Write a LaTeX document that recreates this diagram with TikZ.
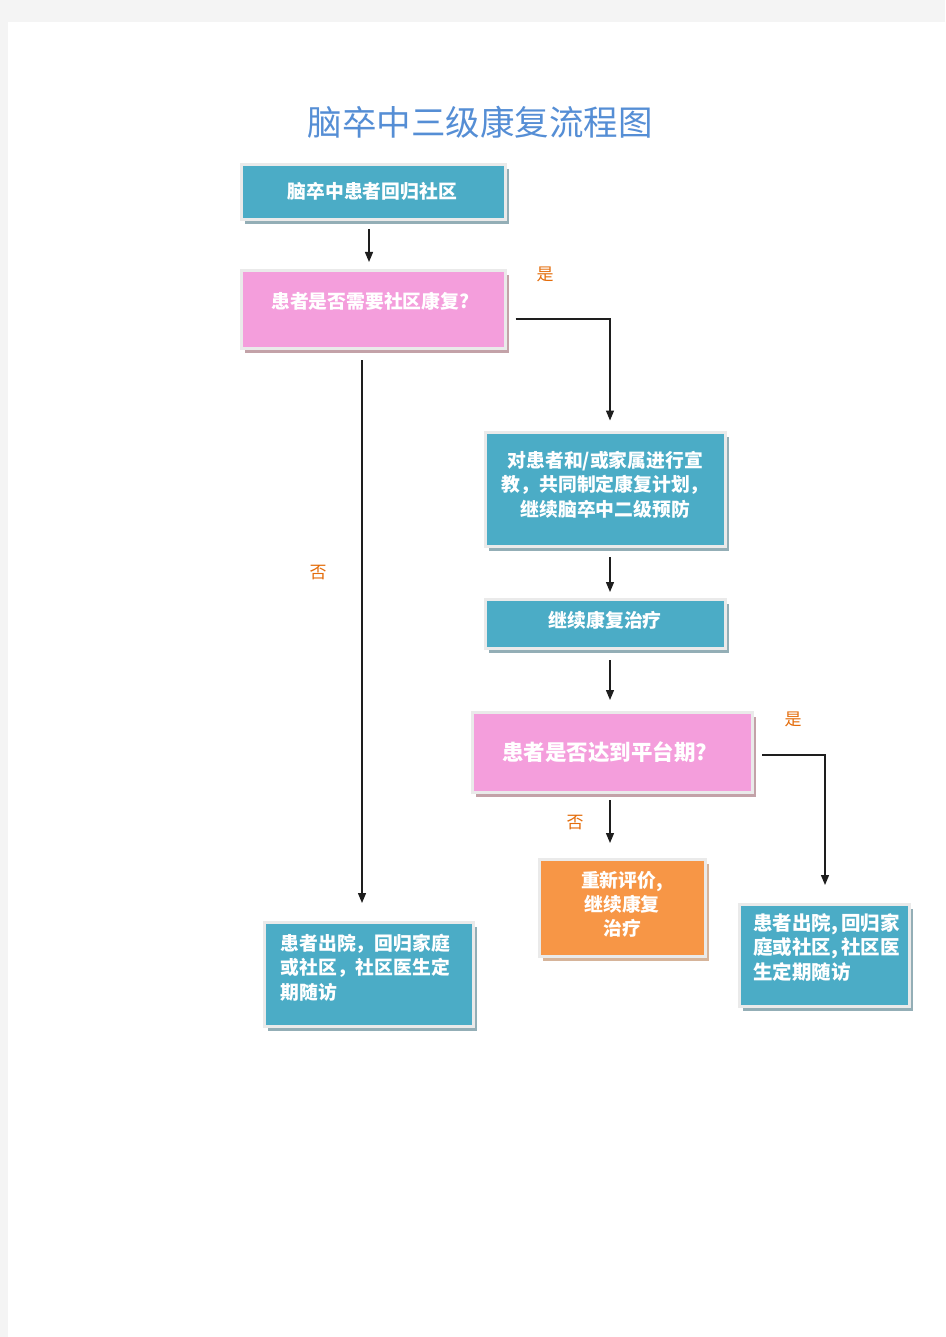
\documentclass[tikz,border=0pt]{standalone}
\usepackage{fontspec}
\newfontfamily\cjk{Noto Sans CJK SC}
\usetikzlibrary{arrows.meta,shadows}
\definecolor{pagegray}{HTML}{F4F4F4}
\definecolor{tealfill}{HTML}{4BACC6}
\definecolor{tealshadow}{HTML}{93AEB6}
\definecolor{pinkfill}{HTML}{F49EDC}
\definecolor{pinkshadow}{HTML}{C3A2A8}
\definecolor{orangefill}{HTML}{F79646}
\definecolor{orangeshadow}{HTML}{D6B49A}
\definecolor{framegray}{HTML}{EAEAEA}
\definecolor{titleblue}{HTML}{558ED5}
\definecolor{labelorange}{HTML}{E46C0A}
\definecolor{arrowgray}{HTML}{1E1E1E}
\begin{document}
\begin{tikzpicture}[x=1pt,y=-1pt,
  box/.style={draw=framegray, line width=3pt, inner sep=0pt, outer sep=0pt},
  tbox/.style={box, fill=tealfill, drop shadow={shadow xshift=3.5pt, shadow yshift=-4.5pt, fill=tealshadow, opacity=1}},
  pbox/.style={box, fill=pinkfill, drop shadow={shadow xshift=3.5pt, shadow yshift=-4.5pt, fill=pinkshadow, opacity=1}},
  obox/.style={box, fill=orangefill, drop shadow={shadow xshift=3.5pt, shadow yshift=-4.5pt, fill=orangeshadow, opacity=1}},
  btext/.style={inner sep=0pt, text=white, font=\cjk\bfseries\fontsize{18.8}{24.5}\selectfont, align=center},
  lbl/.style={inner sep=0pt, text=labelorange, font=\cjk\fontsize{17}{18}\selectfont},
  conn/.style={draw=arrowgray, line width=1.3pt, -{Triangle[width=8pt,length=10pt]}}
]
\useasboundingbox (0,0) rectangle (945,1337);
\fill[pagegray] (0,0) rectangle (945,1337);
\fill[white] (8,22) rectangle (945,1337);

\node[inner sep=0pt, text=titleblue, font=\cjk\fontsize{34.5}{40}\selectfont] (title) at (480,122) {脑卒中三级康复流程图};

% boxes
\node[tbox, minimum width=264.5pt, minimum height=55.5pt] (b1) at (373.25,192.25) {};
\node[pbox, minimum width=264.5pt, minimum height=77pt] (b2) at (373.25,309.5) {};
\node[tbox, minimum width=240.5pt, minimum height=113.5pt] (b3) at (605.25,489.25) {};
\node[tbox, minimum width=240.5pt, minimum height=48.5pt] (b4) at (605.25,623.75) {};
\node[pbox, minimum width=280pt, minimum height=79.5pt] (b5) at (612.5,752.25) {};
\node[obox, minimum width=166pt, minimum height=96.5pt] (b6) at (622,907.75) {};
\node[tbox, minimum width=170.5pt, minimum height=101.5pt] (b7) at (824.25,955.25) {};
\node[tbox, minimum width=209pt, minimum height=103.5pt] (b8) at (369,974.25) {};

% texts
\node[btext] (t1) at ([xshift=-1pt,yshift=1pt]b1.center) {脑卒中患者回归社区};
\node[btext] (t2) at ([xshift=-3pt,yshift=8.5pt]b2.center) {患者是否需要社区康复?};
\node[btext] (t3) at ([yshift=4.75pt]b3.center) {对患者和/或家属进行宣\\教，共同制定康复计划，\\继续脑卒中二级预防};
\node[btext] (t4) at ([yshift=3.75pt]b4.center) {继续康复治疗};
\node[btext, font=\cjk\bfseries\fontsize{21.5}{26}\selectfont] (t5) at ([xshift=-7.5pt]b5.center) {患者是否达到平台期?};
\node[btext, font=\cjk\bfseries\fontsize{18.8}{24}\selectfont] (t6) at ([yshift=3.75pt]b6.center) {重新评价,\\继续康复\\治疗};
\node[btext, align=left, text width=150pt, anchor=west, font=\cjk\bfseries\fontsize{19.5}{24.5}\selectfont] (t7) at ([xshift=14pt,yshift=8pt]b7.west) {患者出院,\,回归家\\庭或社区,\,社区医\\生定期随访};
\node[btext, align=left, text width=180pt, anchor=west] (t8) at ([xshift=16pt,yshift=7pt]b8.west) {患者出院，回归家庭\\或社区，社区医生定\\期随访};

% labels
\node[lbl] (y1) at (545,274) {是};
\node[lbl] (n1) at (318,573) {否};
\node[lbl] (y2) at (793,719) {是};
\node[lbl] (n2) at (575,823) {否};

% connectors
\draw[conn, shorten <=9pt, shorten >=9pt] ([xshift=-4.25pt]b1.south) -- ([xshift=-4.25pt]b2.north);
\draw[conn, shorten <=10pt, shorten >=12pt] ([yshift=-9.5pt]b2.east) -| ([xshift=4.75pt]b3.north);
\draw[conn, shorten <=12pt, shorten >=19.5pt] ([xshift=-11.25pt]b2.south) -- ([xshift=-7pt]b8.north);
\draw[conn, shorten <=11pt, shorten >=7.5pt] ([xshift=4.75pt]b3.south) -- ([xshift=4.75pt]b4.north);
\draw[conn, shorten <=12pt, shorten >=12.5pt] ([xshift=4.75pt]b4.south) -- ([xshift=-2.5pt]b5.north);
\draw[conn, shorten <=9.5pt, shorten >=19.5pt] ([yshift=-2.75pt]b5.east) -| ([xshift=0.75pt]b7.north);
\draw[conn, shorten <=8pt, shorten >=16.5pt] ([xshift=-2.5pt]b5.south) -- ([xshift=-12pt]b6.north);
\end{tikzpicture}
\end{document}
